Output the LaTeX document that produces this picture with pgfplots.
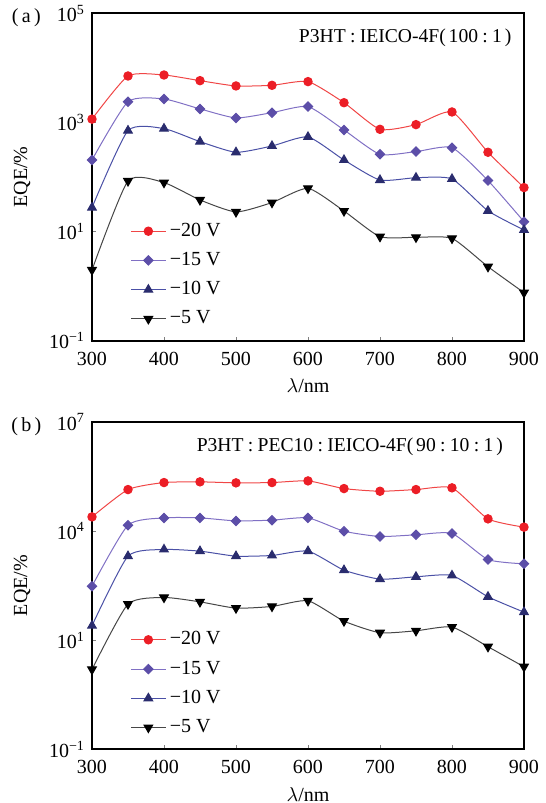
\documentclass[border=0pt]{standalone}
\usepackage{fontspec}
\setmainfont{Liberation Serif}
\usepackage{pgfplots}
\usepackage{pgfplotstable}
\pgfplotsset{compat=1.18}

\definecolor{cred}{RGB}{236,30,38}
\definecolor{lred}{RGB}{240,70,70}
\definecolor{cpur}{RGB}{92,78,168}
\definecolor{lpur}{RGB}{128,112,196}
\definecolor{cnav}{RGB}{42,44,110}
\definecolor{lnav}{RGB}{74,80,166}
\definecolor{lblk}{RGB}{70,70,70}

\newcommand\cc{\hspace{0.22em}:\hspace{0.22em}}

% panel (a): x, -20 V, -15 V, -10 V, -5 V
\pgfplotstableread{
x   r      p      n     k
300 1150   205    27.5  1.98
350 7100   2400   708   84.5
400 7400   2690   770   79
450 5830   1770   445   38
500 4660   1210   284   22.9
550 4790   1510   370   34
600 5600   1950   542   62
650 2300   728    205   23.8
700 748    261    88    8.07
750 912    292    97    7.85
800 1555   345    92    7.5
850 284    86     24    2.27
900 64     15.2   10.7  0.76
}\tabA

% panel (b)
\pgfplotstableread{
x   r       p      n     k
300 24500   305    25    1.57
350 138000  14500  2040  98
400 215000  23000  3110  149
450 225000  23000  2800  113
500 211000  19000  2040  76
550 215000  19900  2130  84.5
600 239000  23000  2800  121
650 147000  9900   841   33.4
700 124000  7080   476   16
750 138000  7870   552   18.1
800 154000  8560   600   22.9
850 21600   1650   156   6.6
900 12800   1256   59    1.86
}\tabB

\pgfplotsset{
  sred/.style={lred, mark=*, mark size=2.1pt, mark options={fill=cred, draw=cred}},
  spur/.style={lpur, mark=square*, mark size=1.65pt, mark options={fill=cpur, draw=cpur, rotate=45}},
  snav/.style={lnav, mark=triangle*, mark size=2.5pt, mark options={fill=cnav, draw=cnav}},
  sblk/.style={lblk, mark=triangle*, mark size=2.5pt, mark options={fill=black, draw=black, rotate=180}},
}

\begin{document}
\begin{tikzpicture}[font=\fontsize{10}{12}\selectfont]
\useasboundingbox (-46pt,-231.15pt) rectangle (227pt,170.35pt);
\pgfplotsset{every axis/.append style={
    scale only axis, width=216pt, height=163.7pt,
    ymode=log, xmin=300, xmax=900,
    xtick={300,400,...,900},
    xminorticks=false, yminorticks=false,
    tick align=inside, tick pos=left,
    major tick length=2pt,
    axis line style={line width=0.9pt},
    /pgf/number format/assume math mode=true,
    xticklabel style={yshift=-2pt},
    yticklabel style={xshift=0pt},
    xlabel={$\lambda$/nm},
    ylabel={EQE/\%},
    xlabel style={yshift=0pt},
    ylabel style={yshift=2.5pt},
    clip=false,
    legend style={draw=none, fill=none, at={(0.075,0.385)}, anchor=north west, row sep=2.5pt},
    legend cell align=left,
  },
  every axis plot/.append style={line width=0.5pt, smooth, tension=0.35},
}
\begin{axis}[
  ymin=0.1, ymax=1e5,
  ytick={0.1,10,1000,100000},
  yticklabels={10\textsuperscript{−1},10\textsuperscript{1},10\textsuperscript{3},10\textsuperscript{5}},
]
  \addplot[sred] table[x=x,y=r]{\tabA};
  \addplot[spur] table[x=x,y=p]{\tabA};
  \addplot[snav] table[x=x,y=n]{\tabA};
  \addplot[sblk] table[x=x,y=k]{\tabA};
  \legend{−20 V,−15 V,−10 V,−5 V}
  \node[anchor=east, inner sep=0pt, font=\fontsize{9.8}{11}\selectfont] at (rel axis cs:0.972,0.925)
    {P3HT\cc IEICO-4F(\hspace{0.15em}100\cc 1\hspace{0.15em})};
  \node at (rel axis cs:-0.152,0.986) {(\,a\,)};
\end{axis}
\begin{axis}[at={(0,-204.3pt)},
  ymin=0.01, ymax=1e7,
  ytick={0.01,10,10000,1e7},
  yticklabels={10\textsuperscript{−1},10\textsuperscript{1},10\textsuperscript{4},10\textsuperscript{7}},
]
  \addplot[sred] table[x=x,y=r]{\tabB};
  \addplot[spur] table[x=x,y=p]{\tabB};
  \addplot[snav] table[x=x,y=n]{\tabB};
  \addplot[sblk] table[x=x,y=k]{\tabB};
  \legend{−20 V,−15 V,−10 V,−5 V}
  \node[anchor=east, inner sep=0pt, font=\fontsize{9.8}{11}\selectfont] at (rel axis cs:0.952,0.924)
    {P3HT\cc PEC10\cc IEICO-4F(\hspace{0.15em}90\cc 10\cc 1\hspace{0.15em})};
  \node at (rel axis cs:-0.152,0.986) {(\,b\,)};
\end{axis}
\end{tikzpicture}
\end{document}
